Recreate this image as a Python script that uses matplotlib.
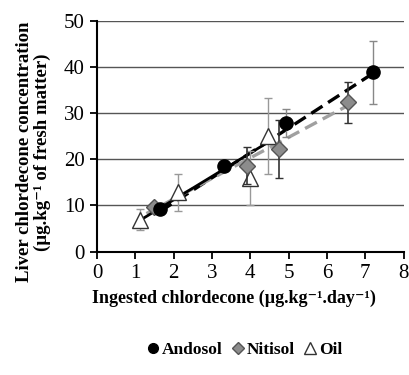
import numpy as np
import matplotlib.pyplot as plt
from matplotlib.lines import Line2D

plt.rcParams['font.family'] = ['Liberation Serif', 'DejaVu Serif']

# data
andosol_x = [1.65, 3.32, 4.93, 7.2]
andosol_y = [9.2, 18.6, 27.9, 38.8]
andosol_err = [0.8, 1.0, 3.0, 6.8]

nitisol_x = [1.49, 3.92, 4.76, 6.54]
nitisol_y = [9.6, 18.6, 22.2, 32.3]
nitisol_err = [1.0, 4.0, 6.3, 4.5]

oil_x = [1.13, 2.1, 3.99, 4.47]
oil_y = [6.9, 12.9, 15.9, 25.0]
oil_err = [2.3, 4.0, 5.8, 8.2]

# regression lines (slope, intercept)
andosol_fit = (5.38, -0.15)
nitisol_fit = (4.45, 2.5)
oil_fit = (5.06, 1.1)

fig = plt.figure(figsize=(4.1, 3.75), dpi=100)
ax = fig.add_axes([0.2366, 0.329, 0.748, 0.616])

for y in [10, 20, 30, 40, 50]:
    ax.axhline(y, color='#555555', lw=1.0, zorder=0)

# trend lines
xs = np.array([min(andosol_x), max(andosol_x)])
ax.plot(xs, andosol_fit[0] * xs + andosol_fit[1], color='black', ls=(0, (4, 2)), lw=2.4, zorder=2)
xs = np.array([min(nitisol_x) - 0.2, max(nitisol_x)])
ax.plot(xs, nitisol_fit[0] * xs + nitisol_fit[1], color='#a0a0a0', ls=(0, (4, 2)), lw=2.4, zorder=2)
xs = np.array([min(oil_x) + 0.08, max(oil_x) - 0.05])
ax.plot(xs, oil_fit[0] * xs + oil_fit[1], color='black', ls='-', lw=2.0, zorder=2)

# points with error bars
ax.errorbar(oil_x, oil_y, yerr=oil_err, fmt='^', ms=11, mfc='white', mec='#333333',
            mew=1.0, ecolor='#999999', elinewidth=1.0, capsize=3, zorder=3)
ax.errorbar(nitisol_x, nitisol_y, yerr=nitisol_err, fmt='D', ms=8, mfc='#8c8c8c', mec='#555555',
            mew=1.0, ecolor='#333333', elinewidth=1.2, capsize=3, zorder=4)
ax.errorbar(andosol_x, andosol_y, yerr=andosol_err, fmt='o', ms=9.5, mfc='black', mec='black',
            ecolor='#888888', elinewidth=1.0, capsize=3, zorder=5)

ax.set_xlim(0, 8)
ax.set_ylim(0, 50)
ax.set_xticks(range(0, 9))
ax.set_yticks(range(0, 51, 10))
ax.tick_params(labelsize=15, direction='out', length=5, width=1.3, pad=4)
for s in ['top', 'right']:
    ax.spines[s].set_visible(False)
for s in ['left', 'bottom']:
    ax.spines[s].set_linewidth(1.5)

fig.text(0.57, 0.205, 'Ingested chlordecone (µg.kg⁻¹.day⁻¹)',
         ha='center', va='center', fontsize=13, fontweight='bold')
fig.text(0.082, 0.595, 'Liver chlordecone concentration\n(µg.kg⁻¹ of fresh matter)',
         ha='center', va='center', rotation=90, fontsize=13.5, fontweight='bold',
         multialignment='center', linespacing=1.1)

handles = [
    Line2D([], [], ls='none', marker='o', ms=7, mfc='black', mec='black'),
    Line2D([], [], ls='none', marker='D', ms=6, mfc='#8c8c8c', mec='#555555'),
    Line2D([], [], ls='none', marker='^', ms=8, mfc='white', mec='#333333'),
]
fig.legend(handles, ['Andosol', 'Nitisol', 'Oil'], loc='center', bbox_to_anchor=(0.595, 0.067),
           ncol=3, frameon=False, handlelength=0.8, handletextpad=0.1, columnspacing=0.5,
           prop={'family': 'Liberation Serif', 'weight': 'bold', 'size': 12.5})

fig.savefig('out.png', dpi=100)
